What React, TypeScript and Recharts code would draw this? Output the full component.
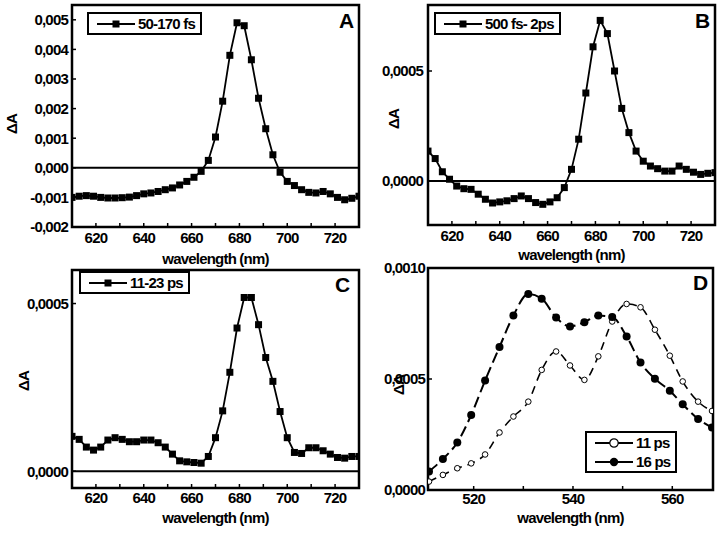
import { Label, Legend, Line, LineChart, ReferenceArea, ReferenceLine, XAxis, YAxis } from 'recharts'

// wavelengths (nm) shared by panels A, B, C
const wavelengthsRed = [
  610, 613, 616, 619, 622, 625, 628, 631, 634, 637, 640, 643, 646, 649, 652, 655, 658, 661, 664, 667,
  670, 673, 676, 679, 682, 685, 688, 691, 694, 697, 700, 703, 706, 709, 712, 715, 718, 721, 724, 727, 730,
]

const spectrumA = [
  -0.001, -0.00096, -0.00094, -0.00096, -0.001, -0.00102, -0.00102, -0.00101, -0.00099, -0.00094,
  -0.00088, -0.00085, -0.0008, -0.00074, -0.00068, -0.00058, -0.00046, -0.00032, -0.00012, 0.00025,
  0.00104, 0.00225, 0.0038, 0.0049, 0.0048, 0.00365, 0.00235, 0.00132, 0.00044, -0.00015,
  -0.00046, -0.0006, -0.00074, -0.00083, -0.00085, -0.0008, -0.00088, -0.001, -0.00108, -0.00103, -0.00096,
]

const spectrumB = [
  0.000136, 0.000102, 0.000042, 0.000008, -0.000023, -0.000035, -0.000038, -0.00006, -0.000083, -0.0001,
  -0.000095, -0.00009, -0.00008, -0.000068, -0.00008, -0.000098, -0.000106, -0.000095, -0.000076, -0.00003,
  0.000053, 0.00019, 0.0004, 0.00061, 0.00073, 0.00067, 0.0005, 0.00033, 0.00022, 0.000136,
  0.00009, 0.000068, 0.000056, 0.000045, 0.000045, 0.000068, 0.000053, 0.00004, 0.00003, 0.000035, 0.000038,
]

const spectrumC = [
  0.000104, 0.000095, 0.000072, 0.000063, 0.000072, 0.000093, 0.0001, 0.000095, 0.000088, 0.000088,
  0.000093, 0.000093, 0.000085, 0.000072, 0.000051, 0.000031, 0.000028, 0.000026, 0.000024, 0.000044,
  0.0001, 0.00018, 0.000295, 0.000427, 0.000518, 0.000518, 0.000437, 0.000339, 0.000268, 0.000178,
  0.0001, 0.000056, 0.000053, 0.00007, 0.00007, 0.000061, 0.000051, 0.000041, 0.000039, 0.000044, 0.000044,
]

// panel D (green region)
const wavelengthsGreen = [
  511, 513.8, 516.7, 519.5, 522.3, 525.2, 528, 531, 533.7, 536.6, 539.4,
  542.3, 545.1, 547.9, 550.8, 553.6, 556.5, 559.5, 562.1, 565.2, 568,
]

const spectrum11ps = [
  0.000038, 0.000068, 0.000098, 0.00012, 0.00016, 0.000259, 0.000331, 0.000398, 0.000541, 0.000624, 0.000561,
  0.000496, 0.000602, 0.000759, 0.000838, 0.000823, 0.000722, 0.000605, 0.000489, 0.000398, 0.000356,
]

const spectrum16ps = [
  0.000083, 0.00014, 0.000214, 0.000338, 0.000493, 0.000644, 0.000786, 0.000883, 0.000862, 0.000777, 0.000737,
  0.000756, 0.000786, 0.000779, 0.000692, 0.000574, 0.000501, 0.000447, 0.000386, 0.00032, 0.000281,
]

const ticksRed = [620, 630, 640, 650, 660, 670, 680, 690, 700, 710, 720]
const labelsRed = [620, 640, 660, 680, 700, 720]
const ticksGreen = [520, 530, 540, 550, 560]
const labelsGreen = [520, 540, 560]

type Marker = 'square' | 'open' | 'filled'

interface SeriesDef {
  curve: 'linear' | 'monotone'
  dash?: string
  key: string
  label: string
  marker: Marker
  width: number
}

interface PanelProps {
  data: Record<string, number>[]
  height: number
  left: number
  legendPos: { left: number; top: number }
  letter: string
  letterPos: { left: number; top: number }
  margin: { top: number; right: number; bottom: number; left: number }
  series: SeriesDef[]
  titlePos: { x: number; y: number }
  top: number
  width: number
  xDomain: [number, number]
  xHeight: number
  xLabelOffset: number
  xLabels: number[]
  xTickMargin: number
  xTicks: number[]
  yDecimals: number
  yDomain: [number, number]
  yTickMargin: number
  yTicks: number[]
  yWidth: number
  zeroLine: boolean
}

const INK = '#000'

function rowsOf(xs: number[], cols: Record<string, number[]>) {
  return xs.map((nm, i) => {
    const row: Record<string, number> = { nm }
    for (const key of Object.keys(cols)) row[key] = cols[key][i]
    return row
  })
}

function markerDot(marker: Marker) {
  return (props: any) => {
    const { cx, cy, index } = props
    if (cx == null || cy == null) return <g key={index} />
    if (marker === 'square') {
      return <rect key={index} x={cx - 3.5} y={cy - 3.5} width={7} height={7} fill={INK} />
    }
    if (marker === 'filled') {
      return <circle key={index} cx={cx} cy={cy} r={4} fill={INK} />
    }
    return <circle key={index} cx={cx} cy={cy} r={2.8} fill="#fff" stroke={INK} strokeWidth={1} />
  }
}

function LegendSymbol({ marker }: { marker: Marker }) {
  return (
    <svg width={38} height={12} style={{ display: 'block' }}>
      <line x1={0} x2={38} y1={6} y2={6} stroke={INK} strokeWidth={2} />
      {marker === 'square' ? <rect x={15.5} y={2.5} width={7} height={7} fill={INK} /> : null}
      {marker === 'filled' ? <circle cx={19} cy={6} r={4.2} fill={INK} /> : null}
      {marker === 'open' ? <circle cx={19} cy={6} r={4.2} fill="#fff" stroke={INK} strokeWidth={1.2} /> : null}
    </svg>
  )
}

function LegendBox({ items }: { items: SeriesDef[] }) {
  return (
    <div
      style={{
        display: 'inline-block',
        border: `2px solid ${INK}`,
        background: '#fff',
        padding: '0 5px 0 8px',
      }}
    >
      {items.map((item) => (
        <div key={item.key} style={{ display: 'flex', alignItems: 'center', height: 19 }}>
          <LegendSymbol marker={item.marker} />
          <span style={{ marginLeft: 3, fontSize: 15, fontWeight: 700, lineHeight: '19px' }}>{item.label}</span>
        </div>
      ))}
    </div>
  )
}

function Panel(props: PanelProps) {
  const {
    data, height, left, legendPos, letter, letterPos, margin, series, titlePos, top, width,
    xDomain, xHeight, xLabelOffset, xLabels, xTickMargin, xTicks,
    yDecimals, yDomain, yTickMargin, yTicks, yWidth, zeroLine,
  } = props
  const tickStyle = { fill: INK, fontSize: 15, fontWeight: 700 }

  return (
    <div style={{ position: 'absolute', left, top, width, height }}>
      <LineChart width={width} height={height} data={data} margin={margin}>
        <XAxis
          type="number"
          dataKey="nm"
          domain={xDomain}
          allowDataOverflow
          ticks={xTicks}
          interval={0}
          height={xHeight}
          axisLine={false}
          tickSize={-4}
          tickMargin={xTickMargin}
          tickLine={{ stroke: INK, strokeWidth: 1.5 }}
          tick={tickStyle}
          tickFormatter={(v: number) => (xLabels.includes(v) ? String(v) : '')}
        >
          <Label value="wavelength (nm)" position="insideBottom" offset={xLabelOffset} fill={INK} fontSize={15} fontWeight={700} />
        </XAxis>
        <YAxis
          type="number"
          domain={yDomain}
          allowDataOverflow
          ticks={yTicks}
          interval={0}
          width={yWidth}
          axisLine={false}
          tickSize={-4}
          tickMargin={yTickMargin}
          tickLine={{ stroke: INK, strokeWidth: 1.5 }}
          tick={tickStyle}
          tickFormatter={(v: number) => v.toFixed(yDecimals).replace('.', ',')}
        >
          <Label
            content={() => (
              <text
                x={titlePos.x}
                y={titlePos.y}
                transform={`rotate(-90 ${titlePos.x} ${titlePos.y})`}
                textAnchor="middle"
                dominantBaseline="central"
                fill={INK}
                fontSize={15}
                fontWeight={700}
              >
                ΔA
              </text>
            )}
          />
        </YAxis>
        {zeroLine ? <ReferenceLine y={0} stroke={INK} strokeWidth={2} /> : null}
        <ReferenceArea
          x1={xDomain[0]}
          x2={xDomain[1]}
          y1={yDomain[0]}
          y2={yDomain[1]}
          fill="none"
          stroke={INK}
          strokeWidth={2.5}
          ifOverflow="visible"
        />
        {series.map((s) => (
          <Line
            key={s.key}
            dataKey={s.key}
            name={s.label}
            type={s.curve}
            stroke={INK}
            strokeWidth={s.width}
            strokeDasharray={s.dash}
            dot={markerDot(s.marker)}
            activeDot={false}
            isAnimationActive={false}
          />
        ))}
        <Legend
          layout="vertical"
          align="center"
          verticalAlign="middle"
          wrapperStyle={{ left: legendPos.left, top: legendPos.top, width: 'auto' }}
          content={() => <LegendBox items={series} />}
        />
      </LineChart>
      <div
        style={{
          position: 'absolute',
          left: letterPos.left,
          top: letterPos.top,
          fontSize: 21,
          fontWeight: 700,
          lineHeight: '21px',
          letterSpacing: 0,
        }}
      >
        {letter}
      </div>
    </div>
  )
}

const dataA = rowsOf(wavelengthsRed, { a: spectrumA })
const dataB = rowsOf(wavelengthsRed, { b: spectrumB })
const dataC = rowsOf(wavelengthsRed, { c: spectrumC })
const dataD = rowsOf(wavelengthsGreen, { p11: spectrum11ps, p16: spectrum16ps })

export default function App() {
  return (
    <div
      style={{
        position: 'absolute',
        left: 0,
        top: 0,
        width: 720,
        height: 536,
        background: '#fff',
        overflow: 'hidden',
        fontFamily: '"Liberation Sans", Arial, sans-serif',
        letterSpacing: -0.8,
        color: INK,
      }}
    >
      <Panel
        left={0}
        top={0}
        width={365}
        height={275}
        margin={{ top: 5, right: 6, bottom: 0, left: 0 }}
        yWidth={72}
        xHeight={48}
        data={dataA}
        series={[{ key: 'a', label: '50-170 fs', marker: 'square', curve: 'linear', width: 1.8 }]}
        xDomain={[610, 730]}
        xTicks={ticksRed}
        xLabels={labelsRed}
        xTickMargin={9}
        xLabelOffset={11}
        yDomain={[-0.002, 0.0055]}
        yTicks={[-0.002, -0.001, 0, 0.001, 0.002, 0.003, 0.004, 0.005]}
        yDecimals={3}
        yTickMargin={8}
        zeroLine
        titlePos={{ x: 11, y: 124 }}
        legendPos={{ left: 87, top: 12 }}
        letter="A"
        letterPos={{ left: 339, top: 10 }}
      />
      <Panel
        left={360}
        top={0}
        width={360}
        height={275}
        margin={{ top: 5, right: 5, bottom: 0, left: 0 }}
        yWidth={68}
        xHeight={50}
        data={dataB}
        series={[{ key: 'b', label: '500 fs- 2ps', marker: 'square', curve: 'linear', width: 1.8 }]}
        xDomain={[610, 730]}
        xTicks={ticksRed}
        xLabels={labelsRed}
        xTickMargin={9}
        xLabelOffset={15}
        yDomain={[-0.0002, 0.0008]}
        yTicks={[0, 0.0005]}
        yDecimals={4}
        yTickMargin={9}
        zeroLine
        titlePos={{ x: 33, y: 119 }}
        legendPos={{ left: 74, top: 12 }}
        letter="B"
        letterPos={{ left: 335, top: 10 }}
      />
      <Panel
        left={0}
        top={265}
        width={365}
        height={271}
        margin={{ top: 5, right: 6, bottom: 0, left: 0 }}
        yWidth={72}
        xHeight={48}
        data={dataC}
        series={[{ key: 'c', label: '11-23 ps', marker: 'square', curve: 'linear', width: 1.8 }]}
        xDomain={[610, 730]}
        xTicks={ticksRed}
        xLabels={labelsRed}
        xTickMargin={8}
        xLabelOffset={13}
        yDomain={[-0.00005, 0.0006]}
        yTicks={[0, 0.0005]}
        yDecimals={4}
        yTickMargin={8}
        zeroLine
        titlePos={{ x: 23, y: 116 }}
        legendPos={{ left: 79, top: 6 }}
        letter="C"
        letterPos={{ left: 335, top: 9 }}
      />
      <Panel
        left={360}
        top={255}
        width={360}
        height={281}
        margin={{ top: 13, right: 7, bottom: 0, left: 0 }}
        yWidth={68}
        xHeight={46}
        data={dataD}
        series={[
          { key: 'p11', label: '11 ps', marker: 'open', curve: 'monotone', width: 1.6, dash: '8 6' },
          { key: 'p16', label: '16 ps', marker: 'filled', curve: 'monotone', width: 2, dash: '11 5' },
        ]}
        xDomain={[510.8, 568.2]}
        xTicks={ticksGreen}
        xLabels={labelsGreen}
        xTickMargin={7}
        xLabelOffset={13}
        yDomain={[0, 0.001]}
        yTicks={[0, 0.0005, 0.001]}
        yDecimals={4}
        yTickMargin={7}
        zeroLine={false}
        titlePos={{ x: 38, y: 130 }}
        legendPos={{ left: 225, top: 176 }}
        letter="D"
        letterPos={{ left: 333, top: 17 }}
      />
    </div>
  )
}
